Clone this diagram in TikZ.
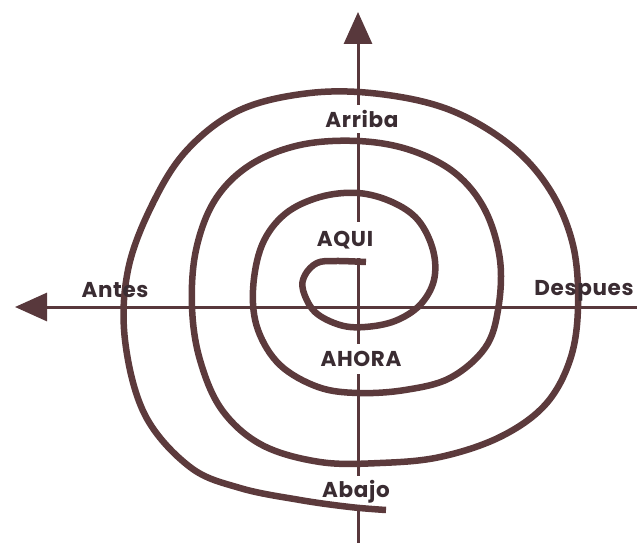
\documentclass[tikz,border=0pt]{standalone}
\usepackage{fontspec}
\setmainfont{Poppins}[LetterSpace=3]
\usetikzlibrary{arrows.meta}
\definecolor{spiralc}{RGB}{92,58,60}
\definecolor{axisc}{RGB}{88,56,60}
\definecolor{textc}{RGB}{58,44,50}
\begin{document}
\begin{tikzpicture}[x=1pt,y=-1pt,
  axis/.style={draw=axisc,line width=3pt,-{Triangle[length=32pt,width=28pt]}},
  spiral/.style={draw=spiralc,line width=6.5pt,line cap=butt,line join=round},
  lbl/.style={text=textc,font=\fontsize{21.5}{24}\selectfont\bfseries,inner sep=0pt},
  lblw/.style={lbl,fill=white,inner xsep=2pt,inner ysep=5pt}]
\useasboundingbox (0,0) rectangle (637,543);
\coordinate (vb) at (358,543);
\coordinate (vt) at (358,12);
\coordinate (hr) at (637,307);
\coordinate (hl) at (15,307);
\draw[axis] (vb) -- (vt);
\draw[axis] (hr) -- (hl);
\node[lblw] (arriba) at (362,119) {Arriba};
\node[lblw,inner ysep=9pt] (aqui) at (345,240) {AQUI};
\node[lblw,inner ysep=7pt] (ahora) at (361,359) {AHORA};
\node[lblw] (abajo) at (356,492) {Abajo};
\draw[spiral] plot[smooth,tension=0.6] coordinates {
(366,262) (335,261) (317,263) (305,275) (303,290) (315,312) (340,325) (365,327) (395,321) (420,305) (434,280) (433,250) (418,220) (392,202) (358,193) (320,197) (285,214) (262,245) (253,290) (258,330) (280,365) (318,387) (358,393) (405,390) (450,378) (485,348) (498,310) (500,260) (485,210) (455,173) (410,150) (358,141) (300,145) (250,165) (215,200) (196,250) (192,307) (200,360) (222,410) (262,445) (320,462) (380,463) (440,457) (500,437) (545,405) (570,360) (578,307) (573,245) (550,190) (510,145) (450,110) (380,94) (310,93) (240,110) (187,150) (152,205) (128,270) (125,340) (145,415) (190,467) (240,488) (300,500) (350,507) (386,510)};
\node[lbl] (antes) at (115,290) {Antes};
\node[lbl] (despues) at (584,291) {Despues};
\end{tikzpicture}
\end{document}
